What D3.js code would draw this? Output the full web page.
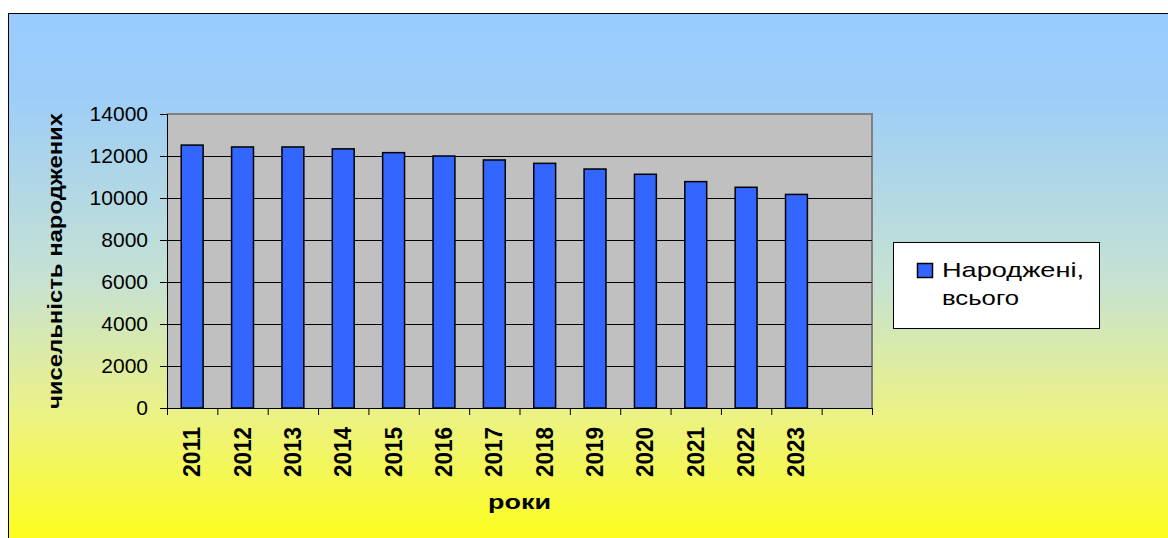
<!DOCTYPE html>
<html>
<head>
<meta charset="utf-8">
<script src="https://cdn.jsdelivr.net/npm/d3@7"></script>
<style>
  body { margin: 0; background: #fff; }
  svg { display: block; font-family: Arial, "Liberation Sans", sans-serif; }
</style>
</head>
<body>
<div id="chart"></div>
<script>
// years on the x axis, last slot stays empty like in the original
const categories = ['2011', '2012', '2013', '2014', '2015', '2016', '2017',
    '2018', '2019', '2020', '2021', '2022', '2023', '']
const years = categories.slice(0, 13)
const births = [12520, 12430, 12430, 12340, 12160, 12000, 11810,
    11650, 11380, 11130, 10780, 10510, 10170]
const yTicks = [0, 2000, 4000, 6000, 8000, 10000, 12000, 14000]
const seriesName = ['Народжені,', 'всього']

function draw_chart() {
    const width = 1168, height = 538
    const plot = {'left': 167, 'right': 872, 'top': 114, 'bottom': 408}

    const svg = d3.select('#chart').append('svg')
        .attr('width', width).attr('height', height)

    const defs = svg.append('defs')
    const grad = defs.append('linearGradient').attr('id', 'bg')
        .attr('x1', 0).attr('y1', 0).attr('x2', 0).attr('y2', 1)
    grad.append('stop').attr('offset', '0%').attr('stop-color', '#99ccff')
    grad.append('stop').attr('offset', '15%').attr('stop-color', '#9dcdf8')
    grad.append('stop').attr('offset', '50%').attr('stop-color', '#c6e2d2')
    grad.append('stop').attr('offset', '75%').attr('stop-color', '#ecf283')
    grad.append('stop').attr('offset', '100%').attr('stop-color', '#ffff14')

    // chart area with the outer frame
    svg.append('rect').attr('x', 8.5).attr('y', 13.5)
        .attr('width', width).attr('height', height)
        .attr('fill', 'url(#bg)').attr('stroke', '#000').attr('stroke-width', 1)

    const x = d3.scaleBand().domain(categories).range([plot.left, plot.right])
    const y = d3.scaleLinear().domain([0, 14000]).range([plot.bottom, plot.top])

    // plot area
    svg.append('rect').attr('x', plot.left).attr('y', plot.top)
        .attr('width', plot.right - plot.left).attr('height', plot.bottom - plot.top)
        .attr('fill', '#c0c0c0')
    svg.append('path')
        .attr('d', `M${plot.left},${plot.top}H${plot.right}V${plot.bottom}`)
        .attr('fill', 'none').attr('stroke', '#808080').attr('stroke-width', 2)

    // gridlines
    svg.append('g').selectAll('line').data(yTicks.filter(d => d > 0 && d < 14000)).join('line')
        .attr('x1', plot.left).attr('x2', plot.right)
        .attr('y1', d => Math.round(y(d)) + 0.5).attr('y2', d => Math.round(y(d)) + 0.5)
        .attr('stroke', '#000').attr('stroke-width', 1)

    // bars
    const barW = x.bandwidth() / 2.3
    svg.append('g').selectAll('rect').data(years).join('rect')
        .attr('x', (d) => x(d) + (x.bandwidth() - barW) / 2)
        .attr('y', (d, i) => y(births[i]))
        .attr('width', barW)
        .attr('height', (d, i) => plot.bottom - y(births[i]))
        .attr('fill', '#3366ff')
        .attr('stroke', '#000').attr('stroke-width', 1.5)

    // y axis
    const yAxis = svg.append('g').attr('transform', `translate(${plot.left},0)`)
        .call(d3.axisLeft(y).tickValues(yTicks).tickSize(7).tickPadding(12).tickFormat(d3.format('d')))
    yAxis.select('.domain').attr('stroke', '#000')
    yAxis.selectAll('text').attr('font-size', 21).attr('fill', '#000')
        .attr('font-family', 'Arial, "Liberation Sans", sans-serif')

    // x axis: ticks at band boundaries
    const xAxis = svg.append('g').attr('transform', `translate(0,${plot.bottom})`)
    xAxis.append('line').attr('x1', plot.left).attr('x2', plot.right)
        .attr('y1', 0.5).attr('y2', 0.5).attr('stroke', '#000')
    xAxis.selectAll('line.tick').data(categories.concat(['end'])).join('line')
        .attr('class', 'tick')
        .attr('x1', (d, i) => plot.left + i * x.step() + 0.5)
        .attr('x2', (d, i) => plot.left + i * x.step() + 0.5)
        .attr('y1', 0).attr('y2', 7).attr('stroke', '#000')
    xAxis.selectAll('text').data(years).join('text')
        .attr('transform', d => `translate(${x(d) + x.bandwidth() / 2 + 8},19) rotate(-90)`)
        .attr('text-anchor', 'end')
        .attr('font-size', 23).attr('font-weight', 'bold')
        .attr('textLength', 50).attr('lengthAdjust', 'spacingAndGlyphs')
        .text(d => d)

    // axis titles
    svg.append('text').attr('transform', 'translate(62,261) rotate(-90)')
        .attr('text-anchor', 'middle').attr('font-size', 20).attr('font-weight', 'bold')
        .attr('textLength', 296).attr('lengthAdjust', 'spacingAndGlyphs')
        .text('чисельність народжених')
    svg.append('text').attr('x', 488).attr('y', 509)
        .attr('font-size', 21).attr('font-weight', 'bold')
        .attr('textLength', 63).attr('lengthAdjust', 'spacingAndGlyphs')
        .text('роки')

    // legend
    const legend = svg.append('g')
    legend.append('rect').attr('x', 893.5).attr('y', 242.5).attr('width', 206).attr('height', 86)
        .attr('fill', '#fff').attr('stroke', '#000')
    legend.append('rect').attr('x', 917.5).attr('y', 263.5).attr('width', 15).attr('height', 14)
        .attr('fill', '#3366ff').attr('stroke', '#000').attr('stroke-width', 1.5)
    legend.selectAll('text.item').data(seriesName).join('text')
        .attr('class', 'item')
        .attr('x', 942).attr('y', (d, i) => 277 + i * 28)
        .attr('font-size', 21)
        .attr('textLength', (d, i) => i === 0 ? 142 : 77).attr('lengthAdjust', 'spacingAndGlyphs')
        .text(d => d)
}

draw_chart();
</script>
</body>
</html>
